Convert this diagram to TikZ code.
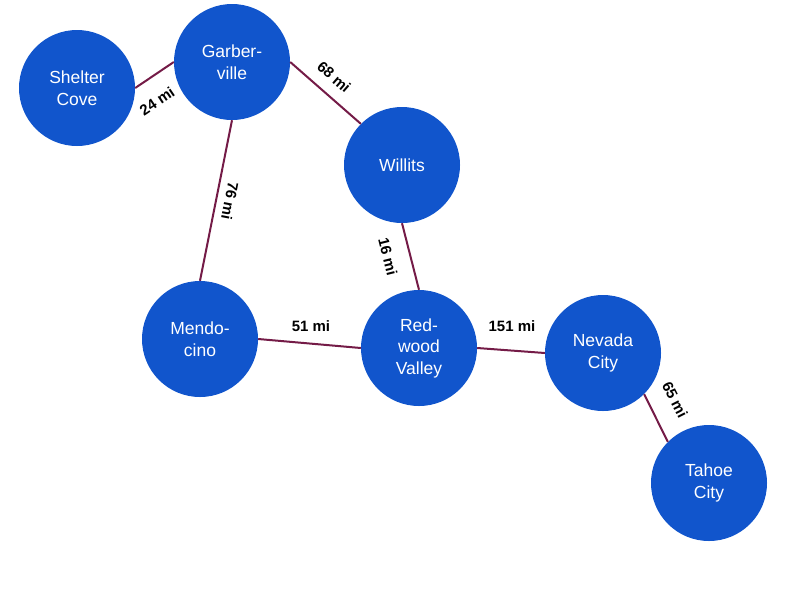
\documentclass[tikz,border=0pt]{standalone}
\usepackage{fontspec}
\setmainfont{Liberation Sans}
\definecolor{nodeblue}{HTML}{1155CC}
\definecolor{edgecol}{HTML}{741B47}
\begin{document}
\begin{tikzpicture}[x=1pt,y=-1pt,
  city/.style={circle,fill=nodeblue,draw=none,minimum size=116pt,inner sep=0pt,
    text=white,align=center,font=\fontsize{17.5}{21.5}\selectfont},
  road/.style={draw=edgecol,line width=2pt},
  dist/.style={font=\fontsize{15}{17}\selectfont\bfseries,text=black,inner sep=1pt}]
\useasboundingbox (0,0) rectangle (800,600);
\node[city] (sc) at (77,88) {Shelter\\Cove};
\node[city] (gv) at (232,62) {Garber-\\ville};
\node[city] (wi) at (402,165) {Willits};
\node[city] (me) at (200,339) {Mendo-\\cino};
\node[city] (rv) at (419,348) {Red-\\wood\\Valley};
\node[city] (nc) at (603,353) {Nevada\\City};
\node[city] (tc) at (709,483) {Tahoe\\City};
\draw[road] (sc.east) -- (gv.west);
\draw[road] (gv.east) -- (wi.north west);
\draw[road] (gv.south) -- (me.north);
\draw[road] (wi.south) -- (rv.north);
\draw[road] (me.east) -- (rv.west);
\draw[road] (rv.east) -- (nc.west);
\draw[road] (nc.south east) -- (tc.north west);
\node[dist,rotate=34] (l1) at (157,101) {24 mi};
\node[dist,rotate=-41] (l2) at (334,77) {68 mi};
\node[dist,rotate=-101] (l3) at (230,201) {76 mi};
\node[dist,rotate=-76] (l4) at (388,257) {16 mi};
\node[dist] (l5) at (311,326) {51 mi};
\node[dist] (l6) at (512,326) {151 mi};
\node[dist,rotate=-63] (l7) at (675,400) {65 mi};
\end{tikzpicture}
\end{document}
